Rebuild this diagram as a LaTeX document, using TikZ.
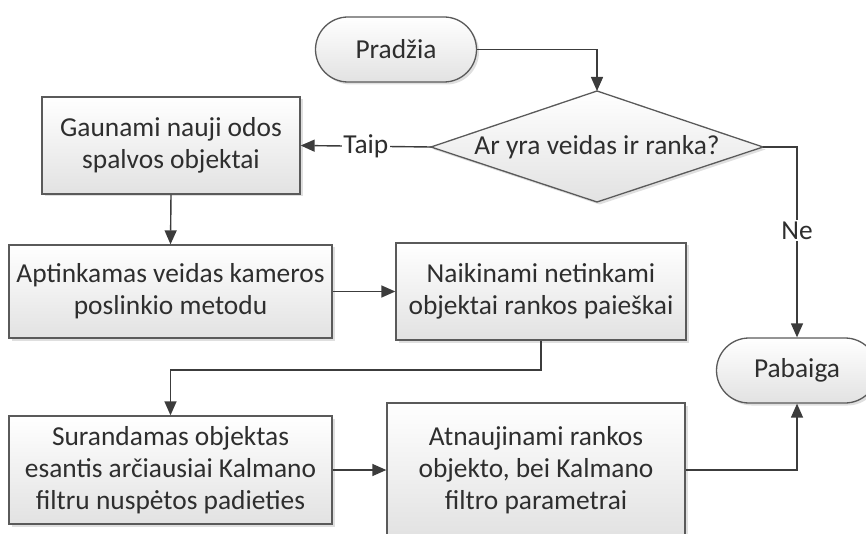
\documentclass[tikz,border=0pt]{standalone}
\usepackage{fontspec}
\setmainfont{Carlito}
\usetikzlibrary{shapes.misc,arrows.meta,shadows}

\definecolor{edgegray}{HTML}{5A5A5A}
\definecolor{linegray}{HTML}{3C3C3C}
\definecolor{inkgray}{HTML}{2E2E2E}
\definecolor{fillbottom}{HTML}{E2E2E2}

\tikzset{
  flowtext/.style={font=\fontsize{27.4pt}{32pt}\selectfont, text=inkgray, align=center},
  shaded/.style={draw=edgegray, line width=1.3pt, top color=white, bottom color=fillbottom,
    drop shadow={shadow xshift=2.5pt, shadow yshift=-2.5pt, opacity=0.25, fill=gray}},
  stepbox/.style={shaded, flowtext, rectangle, inner sep=0pt},
  terminal/.style={shaded, flowtext, rounded rectangle, inner sep=0pt,
    minimum width=161pt, minimum height=65pt},
  arr/.style={draw=linegray, line width=1.4pt, -{Triangle[length=14pt,width=12pt]}},
  lbl/.style={flowtext, fill=white, inner sep=1.5pt}
}

\begin{document}
\begin{tikzpicture}[x=1pt,y=-1pt]
  \useasboundingbox (0,0) rectangle (866,534);

  % start / end terminals
  \node[terminal] (start) at (396,49.5) {Pradžia};
  \node[terminal] (end) at (797,370.5) {Pabaiga};

  % decision diamond
  \coordinate (decT) at (597,91);
  \coordinate (decR) at (763,147);
  \coordinate (decB) at (597,202);
  \coordinate (decL) at (431,147);
  \path[shaded] (decT) -- (decR) -- (decB) -- (decL) -- cycle;
  \node[flowtext] (dec) at (597,147) {Ar yra veidas ir ranka?};

  % process steps
  \node[stepbox, minimum width=258pt, minimum height=97pt] (b1) at (171,145.5)
    {Gaunami nauji odos\\spalvos objektai};
  \node[stepbox, minimum width=323pt, minimum height=93pt] (b2) at (170.5,291.5)
    {Aptinkamas veidas kameros\\poslinkio metodu};
  \node[stepbox, minimum width=290pt, minimum height=97pt] (b3) at (541,291.5)
    {Naikinami netinkami\\objektai rankos paieškai};
  \node[stepbox, minimum width=323pt, minimum height=108pt] (b4) at (170.5,470)
    {Surandamas objektas\\esantis arčiausiai Kalmano\\filtru nuspėtos padieties};
  \node[stepbox, minimum width=298pt, minimum height=134pt] (b5) at (536,470)
    {Atnaujinami rankos\\objekto, bei Kalmano\\filtro parametrai};

  % connectors
  \draw[arr] (start.east) -| (decT);
  \draw[arr] (decL) -- node[lbl] {Taip} (b1.east);
  \draw[arr] (decR) -| node[lbl, pos=0.72] {Ne} (end.north);
  \draw[arr] (b1.south) -- (b2.north);
  \draw[arr] (b2.east) -- (b3.west);
  \coordinate (turn) at (0,370);
  \draw[arr] (b3.south) -- (b3.south |- turn) -| (b4.north);
  \draw[arr] (b4.east) -- (b5.west);
  \draw[arr] (b5.east) -| (end.south);
\end{tikzpicture}
\end{document}
